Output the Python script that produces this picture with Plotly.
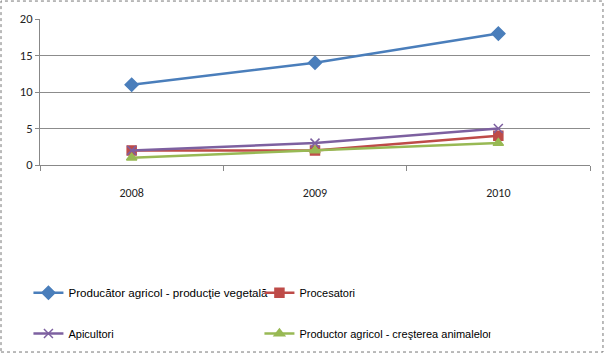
import plotly.graph_objects as go

years = ["2008", "2009", "2010"]
veg = [11, 14, 18]
proc = [2, 2, 4]
apic = [2, 3, 5]
anim = [1, 2, 3]

names = [
    "<span style='font-size:11.6px'>Producător agricol - producţie vegetală</span>",
    "Procesatori",
    "Apicultori",
    "Productor agricol - creşterea animalelor",
]
colors = ["#4A7EBB", "#BE4B48", "#7D60A0", "#98B954"]
symbols = ["diamond", "square", "x-thin", "triangle-up"]
sizes = [10, 9, 9, 9]
series = [veg, proc, apic, anim]
legends = ["legend", "legend", "legend2", "legend2"]

fig = go.Figure()
for n, c, s, sz, v, lg in zip(names, colors, symbols, sizes, series, legends):
    fig.add_trace(go.Scatter(
        x=years, y=v, name=n, mode="lines+markers",
        line=dict(color=c, width=2.5),
        marker=dict(symbol=s, size=sz, color=c, line=dict(color=c, width=1.5)),
        legend=lg,
    ))

font_leg = dict(family="Liberation Sans, Arial, sans-serif", size=11, color="#000")
fig.update_layout(
    width=605, height=354,
    margin=dict(l=40, r=15, t=19, b=189, autoexpand=False),
    paper_bgcolor="white", plot_bgcolor="white",
    showlegend=True,
    legend=dict(orientation="h", xref="container", x=0.047, xanchor="left",
                yref="container", y=0.214, yanchor="top",
                entrywidth=186, entrywidthmode="pixels", font=font_leg,
                itemwidth=30, bgcolor="rgba(0,0,0,0)"),
    legend2=dict(orientation="h", xref="container", x=0.047, xanchor="left",
                 yref="container", y=0.099, yanchor="top",
                 entrywidth=186, entrywidthmode="pixels", font=font_leg,
                 itemwidth=30, bgcolor="rgba(0,0,0,0)"),
    xaxis=dict(type="category", range=[-0.5, 2.5], showgrid=False, automargin=False,
               showline=True, linecolor="#888", linewidth=1,
               ticks="outside", tickson="boundaries", ticklen=5, tickcolor="#888",
               ticklabelstandoff=17,
               tickfont=dict(family="Carlito, Liberation Sans, sans-serif", size=12, color="#222"),
               zeroline=False),
    yaxis=dict(range=[0, 20], dtick=5, showgrid=True, gridcolor="#8c8c8c", gridwidth=1,
               automargin=False,
               showline=True, linecolor="#888", linewidth=1,
               ticks="outside", ticklen=4, tickcolor="#888",
               tickfont=dict(family="Carlito, Liberation Sans, sans-serif", size=12.5, color="#222"),
               zeroline=True, zerolinecolor="#888", zerolinewidth=1),
    shapes=[dict(type="rect", xref="paper", yref="paper",
                 x0=-0.0709, x1=1.0236, y0=-1.281, y1=1.123,
                 line=dict(color="#777", width=1, dash="dot"))],
)

fig.write_html("out.html")
